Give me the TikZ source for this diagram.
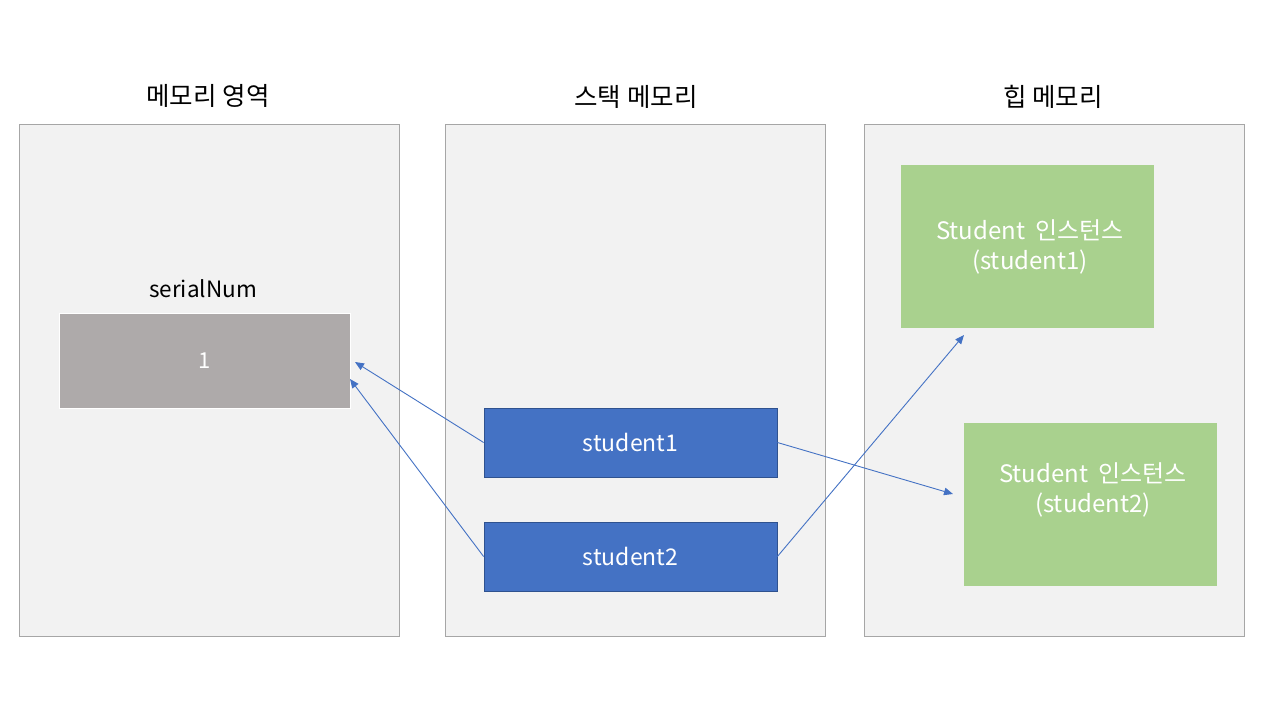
\documentclass[tikz,border=0pt]{standalone}
\usepackage{fontspec}
\setmainfont{Noto Sans CJK KR}
\usetikzlibrary{arrows.meta}
\definecolor{panelfill}{HTML}{F2F2F2}
\definecolor{panelline}{HTML}{A6A6A6}
\definecolor{varfill}{HTML}{AEAAAA}
\definecolor{refill}{HTML}{4472C4}
\definecolor{refline}{HTML}{2F528F}
\definecolor{objfill}{HTML}{A9D18E}
\definecolor{arrowc}{HTML}{4472C4}
\tikzset{
  panel/.style={draw=panelline, fill=panelfill, line width=0.8pt},
  title/.style={font=\fontsize{25.5}{30}\selectfont, text=black},
  varbox/.style={draw=white, fill=varfill, line width=0.8pt},
  refbox/.style={draw=refline, fill=refill, line width=0.8pt, text=white, font=\fontsize{23}{26}\selectfont},
  objbox/.style={fill=objfill},
  objtext/.style={text=white, font=\fontsize{24}{30}\selectfont, align=center},
  link/.style={draw=arrowc, line width=0.9pt, -{Triangle[length=9pt,width=7.5pt]}}
}
\begin{document}
\begin{tikzpicture}[x=1pt,y=-1pt]
\useasboundingbox (0,0) rectangle (1280,720);
\fill[white] (0,0) rectangle (1280,720);
% panels
\draw[panel] (19,124) rectangle (399,636);
\draw[panel] (445,124) rectangle (825,636);
\draw[panel] (864,124) rectangle (1244,636);
% titles
\node[title] (t1) at (208,96) {메모리 영역};
\node[title] (t2) at (636,97) {스택 메모리};
\node[title] (t3) at (1053,97) {힙 메모리};
% variable
\node[font=\fontsize{22.5}{26}\selectfont] (snlabel) at (203,289) {serialNum};
\draw[varbox] (59,313) rectangle (350,408);
\node[text=white, font=\fontsize{22}{26}\selectfont] (one) at (204.5,361) {1};
% references
\node[refbox, minimum width=293pt, minimum height=69pt, inner sep=0pt] (s1) at (630.5,442.5) {student1};
\node[refbox, minimum width=293pt, minimum height=69pt, inner sep=0pt] (s2) at (630.5,556.5) {student2};
% objects
\node[objbox, minimum width=253pt, minimum height=163pt, inner sep=0pt] (o1) at (1027.5,246.5) {};
\node[objbox, minimum width=253pt, minimum height=163pt, inner sep=0pt] (o2) at (1090.5,504.5) {};
\node[objtext] (o1t) at (1030,247) {Student\hspace{0.2em} 인스턴스\\(student1)};
\node[objtext] (o2t) at (1093,490) {Student\hspace{0.2em} 인스턴스\\(student2)};
% arrow ends
\coordinate (e1) at (355,362);
\coordinate (e2) at (350,379);
\coordinate (e3) at (953,494);
\coordinate (e4) at (964,335);
\draw[link] (s1.west) -- (e1);
\draw[link] (s2.west) -- (e2);
\draw[link] (s1.east) -- (e3);
\draw[link] (s2.east) -- (e4);
\end{tikzpicture}
\end{document}
